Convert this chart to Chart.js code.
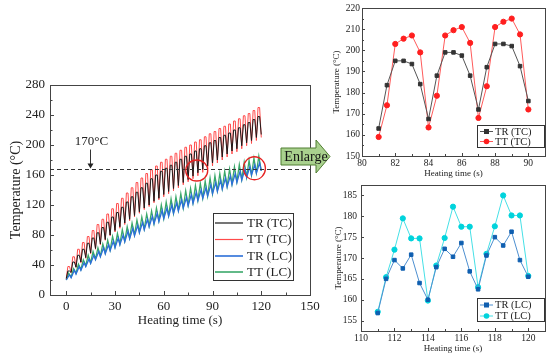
<!DOCTYPE html>
<html>
<head>
<meta charset="utf-8">
<script src="https://cdn.jsdelivr.net/npm/chart.js@4.4.0/dist/chart.umd.min.js"></script>
<style>
  body { margin: 0; background: #fff; }
  canvas { position: absolute; left: 0; top: 0; }
</style>
</head>
<body>
<canvas id="mainChart" width="550" height="358"></canvas>
<canvas id="tcChart" width="550" height="358"></canvas>
<canvas id="lcChart" width="550" height="358"></canvas>
<script>
// ---- main chart: one low value per 3 s cycle start (t = 0, 3, ... 120), one high value per cycle
const trTcLow  = [22,30,37,44,50,56,62,68,74,80, 86,91,96,101,106,111,116,120,125,129, 134,138,142,146,150,154,158.5,163,167.5,172, 176,180,184,188,192,195,199,203,206,210, 214];
const trTcHigh = [32,44,53,61,69,76,83,90,97,104, 110,117,124,131,137,143,149,155,160,165, 169,173,177,181,185,188,192,195,199,203, 206,210,213,216,220,223,227,230,234,238];
const ttTcLow  = [22,30,37,43,49,55,61,67,73,79, 84,89,94,99,104,109,114,118,123,127, 131,135,139,143,147,151,155,159,163.5,168, 172,176,180,184,188,191,195,199,202,206, 210];
const ttTcHigh = [38,51,61,70,78,86,94,101,108,115, 122,129,136,143,150,156,162,167,172,177, 181,185,189,193,197,200,204,207,211,215, 218,222,225,228,232,235,239,242,246,250];
const trLcLow  = [20,23,28,33,38,42,47,51,55,59, 63,67,71,75,79,83,87,91,95,98, 102,105,109,112,116,119,122,126,129,132, 135,138,141,144,147,150,153,157,160,162.5, 165.5];
const trLcHigh = [27,33,38,43,48,53,58,63,67,72, 76,80,85,89,93,97,101,105,109,113, 116,120,123,127,130,134,137,140,143,147, 150,153,156,159,162,165,168,170.8,173.5,176.3];
const ttLcLow  = [20,24,29,34,39,43,48,52,56,60, 64,68,72,76,80,84,88,92,95,99, 102,106,109,113,116,120,123,126,129,132, 135,139,142,145,148,151,154,157,159.8,163, 165.7];
const ttLcHigh = [29,35,41,47,53,58,63,68,73,78, 82,87,91,96,100,104,108,112,116,120, 124,128,131,135,139,142,146,149,152,156, 159,162,165,168,171,174,177,179.5,182.3,185];
const cycleLen = 3;

const mainXTicks = [0, 30, 60, 90, 120, 150];
const mainYTicks = [0, 40, 80, 120, 160, 200, 240, 280];
const limitTemp = 168;   // dashed "170°C" line

// ---- enlarged views
const tcTime = [81,81.5,82,82.5,83,83.5,84,84.5,85,85.5,86,86.5,87,87.5,88,88.5,89,89.5,90];
const trTc   = [163,183.5,195,195,193.5,184,167.5,188,199,199,197.5,188,172,192,203,203,202,192.5,176];
const ttTc   = [159,174,203,205.5,207,199,163.5,178.5,207,209.5,211,203.5,168,183,211,213.5,215,207.5,172];
const tcXTicks = [80, 82, 84, 86, 88, 90];
const tcYTicks = [150, 160, 170, 180, 190, 200, 210, 220];

const lcTime = [111,111.5,112,112.5,113,113.5,114,114.5,115,115.5,116,116.5,117,117.5,118,118.5,119,119.5,120];
const trLc   = [156.8,165,169.5,167.5,170.8,164,160,167.8,172.2,170.3,173.6,166.8,162.5,170.6,175,173,176.3,169.5,165.5];
const ttLc   = [157.1,165.4,172,179.5,174.7,174.7,159.8,168.2,174.8,182.3,177.5,177.5,163,171,177.6,185,180.2,180.2,165.7];
const lcXTicks = [110, 112, 114, 116, 118, 120];
const lcYTicks = [155, 160, 165, 170, 175, 180, 185];

const serif = "'Liberation Serif', 'Times New Roman', serif";
const ink = '#222';

// builds the zigzag: low at cycle start, high held over the next two seconds
function tcPoints(low, high) {
    const pts = [];
    for (let k = 0; k < high.length; k++) {
        pts.push({x: k * cycleLen, y: low[k]});
        pts.push({x: k * cycleLen + 1, y: high[k]});
        pts.push({x: k * cycleLen + 2, y: high[k]});
    }
    pts.push({x: high.length * cycleLen, y: low[high.length]});
    return pts;
}
function lcPoints(low, high, peakAt) {
    const pts = [];
    for (let k = 0; k < high.length; k++) {
        pts.push({x: k * cycleLen, y: low[k]});
        pts.push({x: k * cycleLen + peakAt, y: high[k]});
    }
    pts.push({x: high.length * cycleLen, y: low[high.length]});
    return pts;
}
function zip(xs, ys) {
    return xs.map((x, i) => ({x: x, y: ys[i]}));
}
function mids(ticks) {
    const out = [];
    for (let i = 0; i < ticks.length - 1; i++) out.push((ticks[i] + ticks[i + 1]) / 2);
    return out;
}

// frame around the plot + inward tick marks
const frameTicks = {
    id: 'frameTicks',
    afterDatasetsDraw(chart, args, opts) {
        const {ctx, chartArea: a, scales: {x, y}} = chart;
        ctx.save();
        ctx.strokeStyle = '#444';
        ctx.lineWidth = 1;
        ctx.strokeRect(Math.round(a.left) + 0.5, Math.round(a.top) + 0.5,
                       Math.round(a.right - a.left), Math.round(a.bottom - a.top));
        ctx.beginPath();
        const xt = (vals, len) => vals.forEach(v => {
            const px = Math.round(x.getPixelForValue(v)) + 0.5;
            ctx.moveTo(px, a.bottom); ctx.lineTo(px, a.bottom - len);
        });
        const yt = (vals, len) => vals.forEach(v => {
            const py = Math.round(y.getPixelForValue(v)) + 0.5;
            ctx.moveTo(a.left, py); ctx.lineTo(a.left + len, py);
        });
        xt(opts.xMajor, opts.major); xt(opts.xMinor, opts.minor);
        yt(opts.yMajor, opts.major); yt(opts.yMinor, opts.minor);
        ctx.stroke();
        ctx.restore();
    }
};

function drawLegend(ctx, box, items, size, markers) {
    ctx.save();
    ctx.fillStyle = '#fff';
    ctx.fillRect(box.x, box.y, box.w, box.h);
    ctx.strokeStyle = '#333';
    ctx.lineWidth = 1;
    ctx.strokeRect(box.x + 0.5, box.y + 0.5, box.w, box.h);
    ctx.font = size + 'px ' + serif;
    ctx.textAlign = 'left';
    ctx.textBaseline = 'middle';
    items.forEach((it, i) => {
        const cy = box.y + box.rows[i];
        ctx.strokeStyle = it.line;
        ctx.lineWidth = it.width || 1.2;
        ctx.beginPath();
        ctx.moveTo(box.x + box.l0, cy); ctx.lineTo(box.x + box.l1, cy);
        ctx.stroke();
        if (markers) {
            const mx = (box.x * 2 + box.l0 + box.l1) / 2;
            ctx.fillStyle = it.marker;
            if (it.shape === 'rect') ctx.fillRect(mx - 2.5, cy - 2.5, 5, 5);
            else { ctx.beginPath(); ctx.arc(mx, cy, 2.8, 0, Math.PI * 2); ctx.fill(); }
        }
        ctx.fillStyle = ink;
        ctx.fillText(it.label, box.x + box.tx, cy + 0.5);
    });
    ctx.restore();
}

const mainDeco = {
    id: 'mainDeco',
    afterDraw(chart) {
        const {ctx, chartArea: a, scales: {x, y}} = chart;
        ctx.save();
        // dashed 170 °C line
        const ly = Math.round(y.getPixelForValue(limitTemp)) + 0.5;
        ctx.strokeStyle = '#333';
        ctx.lineWidth = 1;
        ctx.setLineDash([4, 3]);
        ctx.beginPath(); ctx.moveTo(a.left, ly); ctx.lineTo(a.right, ly); ctx.stroke();
        ctx.setLineDash([]);
        // label with arrow
        const ax = Math.round(x.getPixelForValue(14.5)) + 0.5;
        ctx.font = '13px ' + serif;
        ctx.fillStyle = ink;
        ctx.textAlign = 'center';
        ctx.textBaseline = 'middle';
        ctx.fillText('170°C', ax + 1, y.getPixelForValue(204));
        ctx.beginPath(); ctx.moveTo(ax, y.getPixelForValue(194)); ctx.lineTo(ax, ly - 4); ctx.stroke();
        ctx.beginPath(); ctx.moveTo(ax - 3, ly - 6); ctx.lineTo(ax + 3, ly - 6); ctx.lineTo(ax, ly - 1); ctx.closePath();
        ctx.fillStyle = '#222'; ctx.fill();
        // red circles around the enlarged regions
        ctx.strokeStyle = '#e52222';
        ctx.lineWidth = 1.3;
        ctx.beginPath(); ctx.ellipse(x.getPixelForValue(80.3), y.getPixelForValue(166), 11, 10.5, 0, 0, Math.PI * 2); ctx.stroke();
        ctx.beginPath(); ctx.ellipse(x.getPixelForValue(115.8), y.getPixelForValue(169), 11, 11.5, 0, 0, Math.PI * 2); ctx.stroke();
        // legend
        drawLegend(ctx, {x: 213, y: 213, w: 80, h: 67, rows: [10, 26.5, 43, 59], l0: 2, l1: 30, tx: 34},
            [{label: 'TR (TC)', line: '#1a1a1a'},
             {label: 'TT (TC)', line: '#ff4a4a'},
             {label: 'TR (LC)', line: '#2b6fd8', width: 1.6},
             {label: 'TT (LC)', line: '#3aa86a', width: 1.6}], 13, false);
        // "Enlarge" arrow
        ctx.beginPath();
        ctx.moveTo(281, 148); ctx.lineTo(316, 148); ctx.lineTo(316, 140); ctx.lineTo(330, 156.5);
        ctx.lineTo(316, 173); ctx.lineTo(316, 165); ctx.lineTo(281, 165); ctx.closePath();
        ctx.fillStyle = '#a9d18e'; ctx.fill();
        ctx.strokeStyle = '#507e32'; ctx.lineWidth = 1; ctx.stroke();
        ctx.font = '14px ' + serif;
        ctx.fillStyle = '#111';
        ctx.textAlign = 'center';
        ctx.fillText('Enlarge', 306, 157);
        ctx.restore();
    }
};

function insetDeco(id, items, box) {
    return {
        id: id,
        afterDraw(chart) {
            drawLegend(chart.ctx, box, items, 10.5, true);
        }
    };
}

function axisX(min, max, ticks, height, pad, size, titleSize) {
    return {
        type: 'linear', min: min, max: max,
        afterBuildTicks: s => { s.ticks = ticks.map(v => ({value: v})); },
        afterFit: s => { s.height = height; },
        grid: {display: false, drawTicks: false}, border: {display: false},
        ticks: {padding: pad, color: ink, autoSkip: false, maxRotation: 0, font: {family: serif, size: size}},
        title: {display: true, text: 'Heating time (s)', color: ink, padding: 0, font: {family: serif, size: titleSize}}
    };
}
function axisY(min, max, ticks, width, pad, size, titleSize) {
    return {
        type: 'linear', min: min, max: max,
        afterBuildTicks: s => { s.ticks = ticks.map(v => ({value: v})); },
        afterFit: s => { s.width = width; },
        grid: {display: false, drawTicks: false}, border: {display: false},
        ticks: {padding: pad, color: ink, autoSkip: false, font: {family: serif, size: size}},
        title: {display: true, text: 'Temperature (°C)', color: ink, padding: 0, font: {family: serif, size: titleSize}}
    };
}
const common = {
    responsive: false,
    animation: false,
    devicePixelRatio: 1,
    plugins: {legend: {display: false}, tooltip: {enabled: false}}
};

new Chart(document.getElementById('mainChart'), {
    type: 'line',
    data: {
        datasets: [
            {label: 'TR (TC)', data: tcPoints(trTcLow, trTcHigh), borderColor: '#1a1a1a', borderWidth: 1},
            {label: 'TT (TC)', data: tcPoints(ttTcLow, ttTcHigh), borderColor: '#ff4a4a', borderWidth: 1},
            {label: 'TR (LC)', data: lcPoints(trLcLow, trLcHigh, 2), borderColor: '#2b6fd8', borderWidth: 1.3},
            {label: 'TT (LC)', data: lcPoints(ttLcLow, ttLcHigh, 1.5), borderColor: '#3aa86a', borderWidth: 1.3}
        ]
    },
    options: Object.assign({}, common, {
        elements: {point: {radius: 0}, line: {tension: 0}},
        layout: {padding: {left: 8, right: 240, top: 85, bottom: 30}},
        scales: {
            x: axisX(-10, 150, mainXTicks, 33, 4, 13, 13),
            y: axisY(0, 280, mainYTicks, 42, 5, 13, 14)
        },
        plugins: Object.assign({}, common.plugins, {
            frameTicks: {xMajor: mainXTicks, xMinor: mids(mainXTicks), yMajor: mainYTicks, yMinor: mids(mainYTicks), major: 4, minor: 2.5}
        })
    }),
    plugins: [frameTicks, mainDeco]
});

new Chart(document.getElementById('tcChart'), {
    type: 'line',
    data: {
        datasets: [
            {data: zip(tcTime, trTc), borderColor: '#555', borderWidth: 1, pointStyle: 'rect', pointRadius: 2.5,
             pointBackgroundColor: '#333', pointBorderColor: '#333'},
            {data: zip(tcTime, ttTc), borderColor: '#ff5a5a', borderWidth: 1, pointStyle: 'circle', pointRadius: 2.6,
             pointBackgroundColor: '#ff1f1f', pointBorderColor: '#ff1f1f'}
        ]
    },
    options: Object.assign({}, common, {
        layout: {padding: {left: 331, right: 5, top: 8, bottom: 179}},
        scales: {
            x: axisX(80, 91, tcXTicks, 23, 2, 9.5, 9),
            y: axisY(150, 220, tcYTicks, 31, 2, 9.5, 9)
        },
        plugins: Object.assign({}, common.plugins, {
            frameTicks: {xMajor: tcXTicks, xMinor: mids(tcXTicks), yMajor: tcYTicks, yMinor: mids(tcYTicks), major: 3, minor: 2}
        })
    }),
    plugins: [frameTicks, insetDeco('tcLegend',
        [{label: 'TR (TC)', line: '#555', marker: '#333', shape: 'rect', width: 1},
         {label: 'TT (TC)', line: '#ff5a5a', marker: '#ff1f1f', shape: 'circle', width: 1}],
        {x: 477, y: 125, w: 67, h: 22, rows: [6.5, 16.5], l0: 3, l1: 16, tx: 18})]
});

new Chart(document.getElementById('lcChart'), {
    type: 'line',
    data: {
        datasets: [
            {data: zip(lcTime, trLc), borderColor: '#4d8fd0', borderWidth: 1, pointStyle: 'rect', pointRadius: 2.5,
             pointBackgroundColor: '#0f5fb0', pointBorderColor: '#0f5fb0'},
            {data: zip(lcTime, ttLc), borderColor: '#45e0e6', borderWidth: 1, pointStyle: 'circle', pointRadius: 2.6,
             pointBackgroundColor: '#00d3dc', pointBorderColor: '#00d3dc'}
        ]
    },
    options: Object.assign({}, common, {
        layout: {padding: {left: 333, right: 5, top: 185, bottom: 4}},
        scales: {
            x: axisX(110, 121, lcXTicks, 23, 2, 9.5, 9),
            y: axisY(152.5, 187.5, lcYTicks, 28, 4, 9.5, 9)
        },
        plugins: Object.assign({}, common.plugins, {
            frameTicks: {xMajor: lcXTicks, xMinor: mids(lcXTicks), yMajor: lcYTicks, yMinor: [], major: 3, minor: 2}
        })
    }),
    plugins: [frameTicks, insetDeco('lcLegend',
        [{label: 'TR (LC)', line: '#4d8fd0', marker: '#0f5fb0', shape: 'rect', width: 1},
         {label: 'TT (LC)', line: '#45e0e6', marker: '#00d3dc', shape: 'circle', width: 1}],
        {x: 477, y: 298, w: 67, h: 23, rows: [7, 18], l0: 3, l1: 16, tx: 18})]
});
</script>
</body>
</html>
